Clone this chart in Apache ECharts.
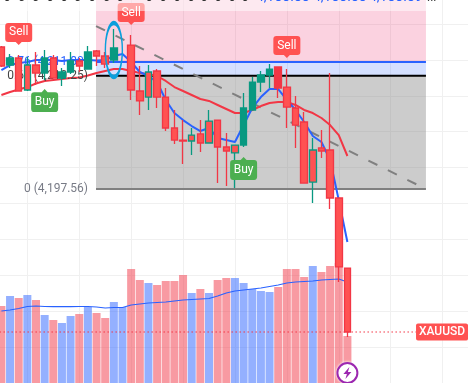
<!DOCTYPE html>
<html>
<head>
<meta charset="utf-8">
<style>html,body{margin:0;padding:0;background:#fff}#c{width:468px;height:383px}</style>
<script src="https://cdn.jsdelivr.net/npm/echarts@6/dist/echarts.min.js"></script>
</head>
<body>
<div id="c"></div>
<script>
const opens  = [4213.48,4211.46,4212.25,4211.46,4211.46,4210.56,4212.25,4210.00,4210.68,4211.91,4211.01,4213.03,4212.47,4212.02,'-',4213.70,4208.55,4210.68,4210.79,4207.87,4204.40,4203.05,4203.61,4203.73,4205.18,4205.29,4202.27,4202.49,4202.49,4206.42,4209.55,4210.34,4211.24,4208.99,4206.64,4205.07,4201.93,4202.16,4201.93,4196.55,4188.70];
const closes = [4211.35,4212.25,4208.55,4208.66,4210.56,4212.25,4210.00,4210.68,4211.91,4211.35,4212.92,4212.47,4211.57,4213.37,'-',4208.66,4207.43,4207.87,4207.87,4204.40,4203.05,4202.94,4202.94,4202.72,4202.72,4202.27,4201.82,4201.60,4206.64,4209.55,4210.34,4211.01,4208.88,4206.75,4204.73,4198.23,4198.34,4201.82,4196.55,4188.82,4181.53];
const lows   = [4211.24,4211.12,4208.55,4208.55,4209.22,4209.78,4210.00,4209.11,4210.45,4210.68,4211.01,4211.35,4211.12,4211.69,'-',4207.54,4205.86,4206.42,4206.64,4204.06,4202.60,4200.36,4201.37,4201.71,4202.72,4198.23,4197.90,4197.67,4202.27,4206.42,4208.43,4208.88,4207.76,4204.40,4202.16,4198.23,4195.99,4201.04,4195.32,4187.13,4180.97];
const highs  = [4213.59,4212.69,4212.58,4212.36,4212.92,4213.14,4212.58,4211.12,4212.92,4212.25,4213.59,4213.14,4212.92,4215.50,'-',4214.82,4211.35,4211.46,4211.01,4208.88,4206.42,4205.29,4204.40,4205.29,4206.42,4205.29,4203.84,4202.49,4208.32,4210.12,4210.79,4211.57,4211.24,4211.01,4207.99,4206.19,4203.28,4204.17,4210.56,4196.55,4188.70];
const outlinedCandles = [3,17,22,24,27,36];
const darkCandles = [32];

const slowMA = [4208.10,4208.43,4208.71,4208.99,4209.39,4209.67,4209.78,4209.89,4210.00,4210.06,4210.28,4210.56,4210.79,4211.01,4211.01,4210.79,4210.56,4210.45,4210.23,4209.67,4208.99,4208.55,4208.10,4207.65,4207.43,4206.98,4206.53,4206.08,4206.08,4206.42,4206.86,4207.20,4207.31,4207.31,4206.98,4206.42,4206.08,4205.52,4204.73,4203.61,4201.26];
const fastMA = [4210.90,4211.46,4211.69,4211.80,4212.02,4212.02,4212.02,4211.91,4212.02,4212.02,4212.02,4211.96,4212.02,4212.47,4212.69,4211.80,4210.68,4210.23,4209.55,4207.54,4206.08,4205.29,4204.62,4204.06,4204.40,4203.28,4203.05,4202.83,4204.73,4206.64,4207.87,4208.77,4208.77,4207.54,4206.42,4205.07,4203.50,4202.83,4200.81,4196.33,4191.62];

const volumes = [7700,8700,8500,8800,8300,6800,6300,6000,6700,6900,7600,7000,6500,8100,7600,11400,10300,10000,9800,10200,10200,10800,9000,9400,9000,10300,10500,10500,10000,9400,9200,9100,9600,11400,11400,10600,11700,11100,11700,12000,4700];
const blueVolumes = [1,3,5,7,8,10,13,14,17,22,24,27,28,29,30,31,36];
const volumeMA = [7200,7300,7450,7650,7700,7650,7630,7630,7630,7650,7650,7600,7500,7550,7550,7800,7900,8000,8050,8100,8200,8300,8350,8400,8450,8700,9000,9200,9300,9400,9500,9650,9800,10000,10100,10150,10200,10300,10350,10400,10100];

const levelPrices = [4211.80, 4210.25, 4197.56];
const levelTexts = ['0.76 (4,211.80)', '0.68 (4,210.25)', '0 (4,197.56)'];
const levelColors = ['#2962ff', '#000000', '#808080'];
const levelTextColors = ['#2962ff', '#444444', '#787b86'];
const zoneTop = 4218.75;
const trendPrices = [4215.83, 4197.56];
const lastPrice = 4181.53;

const sellSignals = [[2,4214.94],[15,4217.18],[33,4213.48]];
const buySignals = [[5,4207.48],[28,4199.86]];
const headerPrices = ['4,188.88','4,188.88','4,188.89'];

const LEAD = 3, TAIL = 14;
const pos = i => i + LEAD;
const zoneStart = 13.94, zoneEnd = 52.08;
const categories = Array.from({length: LEAD + opens.length + TAIL}, (_, i) => String(i));
const pad = arr => Array(LEAD).fill('-').concat(arr, Array(TAIL).fill('-'));

const RED='#f23645', FILL='#ff5252', GREEN='#089981';
const candleData = opens.map((o,i)=>{
  const v=[o,closes[i],lows[i],highs[i]];
  if(outlinedCandles.includes(i)) return {value:v,itemStyle:{color:FILL,color0:FILL,borderColor:GREEN,borderColor0:GREEN}};
  if(darkCandles.includes(i)) return {value:v,itemStyle:{color:RED,color0:RED,borderColor:RED,borderColor0:RED}};
  return {value:v};
});
const blank=['-','-','-','-'];
const volData = volumes.map((v,i)=>({value:v,itemStyle:{color:blueVolumes.includes(i)?'rgba(41,98,255,0.5)':'rgba(242,54,69,0.5)'}}));

const SELL='path://M3 0H24Q27 0 27 3V16Q27 19 24 19H16.5L13.5 22L10.5 19H3Q0 19 0 16V3Q0 0 3 0Z';
const BUY='path://M13.5 0L16.5 3H24Q27 3 27 6V19Q27 22 24 22H3Q0 22 0 19V6Q0 3 3 3H10.5Z';
const BOLT='path://M6 0L0 7H3.5L2 12L8 5H4.5Z';
const FONT='Roboto, sans-serif';

const levelLine=(p,c)=>({type:'line',xAxisIndex:1,yAxisIndex:0,z:1,silent:true,symbol:'none',
  data:[[zoneStart,p],[zoneEnd,p]],lineStyle:{color:c,width:2}});

const dotXs=[7,21.7,35.7,50,64,77.7,92,106.7,120,149,163,177,191,204,218,232,245];
const graphics=[{type:'rect',z:100,shape:{x:0,y:0,width:426,height:11},style:{fill:'rgba(255,255,255,0.5)'}}];
dotXs.forEach(x=>graphics.push({type:'text',z:101,style:{x:x,y:3.5,text:'0',fill:'#333',font:'12px '+FONT,textAlign:'center',textVerticalAlign:'bottom'}}));
[256,313,369].forEach((x,i)=>graphics.push({type:'text',z:101,style:{x:x,y:4,text:headerPrices[i],fill:'#2962ff',font:'14px '+FONT,textAlign:'left',textVerticalAlign:'bottom'}}));
graphics.push({type:'text',z:101,style:{x:427,y:4,text:'...',fill:'#333',font:'12px '+FONT,textAlign:'left',textVerticalAlign:'bottom'}});

const chart=echarts.init(document.getElementById('c'),null,{renderer:'canvas'});
chart.setOption({
  animation:false,
  backgroundColor:'#fff',
  grid:{left:-24.55,top:0,width:493.05,height:383,containLabel:false,outerBoundsMode:'none'},
  xAxis:[
    {type:'category',data:categories,boundaryGap:false,show:false},
    {type:'value',min:0,max:57,interval:6,position:'bottom',
     axisLine:{show:false},axisTick:{show:false},axisLabel:{show:false},
     splitLine:{show:true,lineStyle:{color:'#f0f0f0',width:1}}}
  ],
  yAxis:[
    {type:'value',min:4175.81,max:4218.75,show:false,splitLine:{show:false}},
    {type:'value',min:0,max:38300,interval:3590,position:'right',
     axisLine:{show:false},axisTick:{show:false},axisLabel:{show:false},
     splitLine:{show:true,showMaxLine:false,lineStyle:{color:'#f0f0f0',width:1}}}
  ],
  graphic:graphics,
  series:[
    {type:'line',xAxisIndex:1,yAxisIndex:0,z:1,silent:true,symbol:'none',data:[],
     markArea:{silent:true,z:1,data:[
       [{coord:[zoneStart,zoneTop],itemStyle:{color:'rgba(233,30,99,0.2)'}},{coord:[zoneEnd,levelPrices[0]]}],
       [{coord:[zoneStart,levelPrices[0]],itemStyle:{color:'rgba(41,98,255,0.2)'}},{coord:[zoneEnd,levelPrices[1]]}],
       [{coord:[zoneStart,levelPrices[1]],itemStyle:{color:'rgba(128,128,128,0.4)'}},{coord:[zoneEnd,levelPrices[2]]}]
     ]}},
    levelLine(levelPrices[0],levelColors[0]),
    levelLine(levelPrices[1],levelColors[1]),
    levelLine(levelPrices[2],levelColors[2]),
    {type:'line',xAxisIndex:1,yAxisIndex:0,z:1,silent:true,symbol:'none',
     data:[[zoneStart,trendPrices[0]],[zoneEnd,trendPrices[1]]],
     lineStyle:{color:'#808080',width:2,type:[10,11.7]}},
    {type:'bar',xAxisIndex:0,yAxisIndex:1,z:2,barWidth:8,data:pad(volData)},
    {type:'line',xAxisIndex:0,yAxisIndex:1,z:3,symbol:'none',connectNulls:false,data:pad(volumeMA),lineStyle:{color:'#2962ff',width:1.2}},
    {type:'line',xAxisIndex:1,yAxisIndex:0,z:3,symbol:'none',silent:true,
     data:[[0,lastPrice],[50.93,lastPrice]],lineStyle:{color:RED,width:1.2,type:[1.5,2.5]}},
    {type:'line',xAxisIndex:0,yAxisIndex:0,z:3,symbol:'none',data:pad(slowMA),lineStyle:{color:RED,width:2}},
    {type:'line',xAxisIndex:0,yAxisIndex:0,z:3,symbol:'none',data:pad(fastMA),lineStyle:{color:'#2962ff',width:2}},
    {type:'scatter',xAxisIndex:1,yAxisIndex:0,z:3,symbolSize:0,itemStyle:{opacity:1},
     data:levelPrices.map((p,i)=>({value:[13.01,p],label:{show:true,position:'left',distance:0,formatter:levelTexts[i],color:levelTextColors[i],fontSize:12,fontFamily:FONT}}))},
    {type:'candlestick',xAxisIndex:0,yAxisIndex:0,z:4,barWidth:7,
     itemStyle:{color:FILL,color0:FILL,borderColor:GREEN,borderColor0:RED,borderWidth:1.3},
     data:Array(LEAD).fill(blank).concat(candleData.map((d,i)=>{
       if(opens[i]==='-') return blank;
       if(closes[i]>opens[i]&&!d.itemStyle) return {value:d.value,itemStyle:{color:GREEN,borderColor:GREEN}};
       return d;
     }),Array(TAIL).fill(blank))},
    {type:'scatter',xAxisIndex:1,yAxisIndex:0,z:6,symbol:'circle',symbolSize:[17,54],
     data:[[pos(13),4213.14]],itemStyle:{color:'rgba(0,0,0,0)',borderColor:'#0b9fdc',borderWidth:2.5,opacity:1}},
    {type:'scatter',xAxisIndex:1,yAxisIndex:0,z:7,symbol:SELL,symbolSize:[27,22],
     data:sellSignals.map(s=>[pos(s[0]),s[1]]),itemStyle:{color:'#ff5252',opacity:1},
     label:{show:true,position:'inside',offset:[0,-1.5],formatter:'Sell',color:'#fff',fontSize:12,fontFamily:FONT}},
    {type:'scatter',xAxisIndex:1,yAxisIndex:0,z:7,symbol:BUY,symbolSize:[27,23],
     data:buySignals.map(s=>[pos(s[0]),s[1]]),itemStyle:{color:'#4caf50',opacity:1},
     label:{show:true,position:'inside',offset:[0,1.5],formatter:'Buy',color:'#fff',fontSize:12,fontFamily:FONT}},
    {type:'scatter',xAxisIndex:1,yAxisIndex:0,z:8,symbolSize:0,itemStyle:{opacity:1},
     data:[{value:[53.94,lastPrice],label:{show:true,position:'inside',formatter:'XAUUSD',color:'#fff',fontSize:12,fontFamily:FONT,fontWeight:500,backgroundColor:'#ff5252',padding:[2.5,4,2.5,4],borderRadius:2,width:44,align:'center'}}]},
    {type:'scatter',xAxisIndex:0,yAxisIndex:1,z:8,symbol:'circle',symbolSize:20,
     data:[[String(pos(40)),1000]],itemStyle:{color:'#fff',borderColor:'#9c27b0',borderWidth:2,shadowColor:'#fff',shadowBlur:3,opacity:1}},
    {type:'scatter',xAxisIndex:0,yAxisIndex:1,z:9,symbol:BOLT,symbolSize:[8,12],
     data:[[String(pos(40)),1000]],itemStyle:{color:'#9c27b0',opacity:1}}
  ]
});
</script>
</body>
</html>
